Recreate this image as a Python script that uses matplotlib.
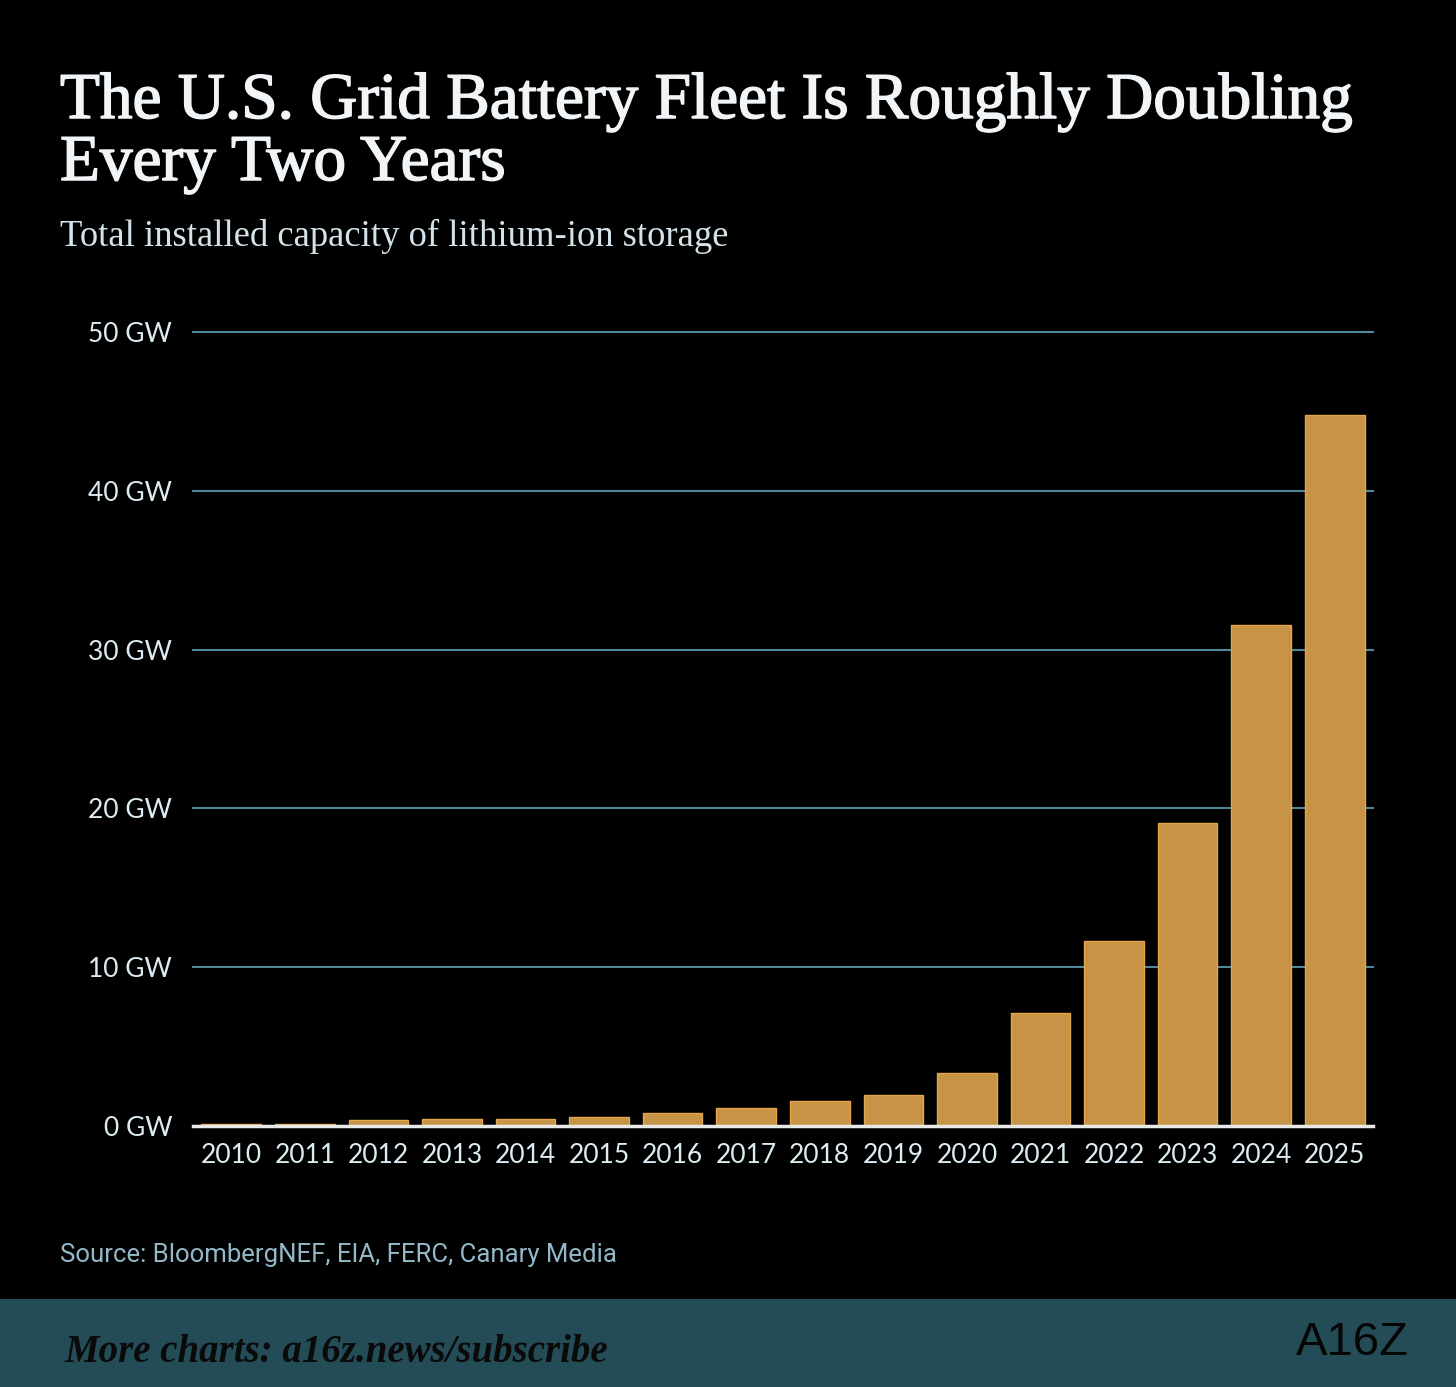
import matplotlib
matplotlib.use("Agg")
import matplotlib.pyplot as plt
import matplotlib.patheffects as pe
from matplotlib.patches import Rectangle

# installed li-ion storage, GW
years = ['2010', '2011', '2012', '2013', '2014', '2015', '2016', '2017',
         '2018', '2019', '2020', '2021', '2022', '2023', '2024', '2025']
capacity = [0.1, 0.15, 0.38, 0.43, 0.41, 0.59, 0.84, 1.15,
            1.57, 1.93, 3.36, 7.14, 11.64, 19.07, 31.53, 44.77]
y_ticks = [0, 10, 20, 30, 40, 50]
y_labels = ['%d GW' % t for t in y_ticks]

bg = '#000000'
bar_col = '#c79447'
grid_col = '#4f8799'
label_col = '#dcecf2'
title_col = '#f2f5f8'

fig = plt.figure(figsize=(14.56, 13.87), dpi=100, facecolor=bg)
ax = fig.add_axes([193/1456, 1 - 1126/1387, (1373-193)/1456, (1126-332)/1387])
ax.set_facecolor(bg)

x = list(range(len(years)))
ax.bar(x, capacity, width=0.81, color=bar_col, edgecolor='#e3a44a', linewidth=1.0, zorder=3)

ax.set_xlim(-0.52, 15.52)
ax.set_ylim(0, 50)
ax.set_yticks(y_ticks)
ax.set_yticklabels(y_labels)
ax.set_xticks(x)
ax.set_xticklabels(years)

for t in y_ticks[1:]:
    ax.axhline(t, color=grid_col, linewidth=1.5, zorder=1, clip_on=False)
ax.axhline(0, color='#e8e8e8', linewidth=2.5, zorder=4, clip_on=False)

for s in ax.spines.values():
    s.set_visible(False)
ax.tick_params(axis='both', length=0, colors=label_col, labelsize=19)
ax.tick_params(axis='y', pad=15)
ax.tick_params(axis='x', pad=12)
for lab in ax.get_xticklabels() + ax.get_yticklabels():
    lab.set_fontfamily('Lato')

# titles (a thin stroke to get closer to the heavier original face)
thick = [pe.withStroke(linewidth=1.1, foreground=title_col)]
fig.text(60/1456, 1 - 118/1387, 'The U.S. Grid Battery Fleet Is Roughly Doubling',
         fontsize=47, family='Liberation Serif', color=title_col, ha='left', va='baseline',
         path_effects=thick)
fig.text(60/1456, 1 - 180/1387, 'Every Two Years',
         fontsize=47, family='Liberation Serif', color=title_col, ha='left', va='baseline',
         path_effects=thick)
fig.text(60/1456, 1 - 246/1387, 'Total installed capacity of lithium-ion storage',
         fontsize=26.4, family='Liberation Serif', color='#d4e2ea', ha='left', va='baseline')

fig.text(60/1456, 1 - 1262/1387, 'Source: BloombergNEF, EIA, FERC, Canary Media',
         fontsize=18.5, family='Roboto', color='#93b8c8', ha='left', va='baseline')

# footer band
fig.patches.append(Rectangle((0, 0), 1, (1387-1299)/1387, transform=fig.transFigure,
                             facecolor='#234c56', edgecolor='none', zorder=0))
fig.text(65/1456, 1 - 1362/1387, 'More charts: a16z.news/subscribe',
         fontsize=28, family='Liberation Serif', style='italic', weight='bold',
         color='#0a0a0a', ha='left', va='baseline')
fig.text(1352/1456, 1 - 1343/1387, 'A16Z', fontsize=34, family='Liberation Sans',
         color='#050505', ha='center', va='center')

fig.savefig('out.png', dpi=100, facecolor=bg)
